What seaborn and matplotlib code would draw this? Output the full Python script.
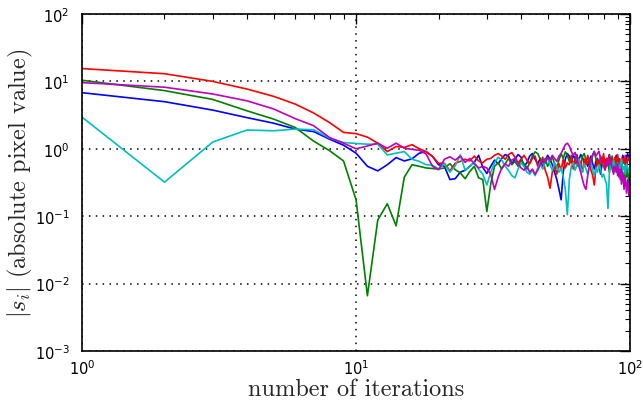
import numpy as np
import pandas as pd
import matplotlib
matplotlib.use("Agg")
import matplotlib.pyplot as plt
import seaborn as sns
from matplotlib.ticker import LogLocator

iterations = list(range(1, 101))

blue = [6.8, 5.0, 3.75, 2.9, 2.4, 1.96, 1.8, 1.39, 1.13, 0.86,
        0.55, 0.47, 0.58, 0.74, 0.66, 0.71, 0.86, 0.91, 0.77, 0.58,
        0.55, 0.35, 0.36, 0.45, 0.48, 0.55, 0.63, 0.80, 0.53, 0.43,
        0.55, 0.68, 0.60, 0.72, 0.82, 0.78, 0.60, 0.70, 0.82, 0.75,
        0.55, 0.62, 0.78, 0.85, 0.70, 0.60, 0.72, 0.52, 0.65, 0.80,
        0.70, 0.58, 0.45, 0.35, 0.25, 0.175, 0.45, 0.70, 0.85, 0.78,
        0.62, 0.80, 0.72, 0.58, 0.68, 0.82, 0.75, 0.62, 0.70, 0.55,
        0.68, 0.78, 0.60, 0.50, 0.65, 0.72, 0.58, 0.42, 0.60, 0.75,
        0.68, 0.55, 0.70, 0.82, 0.62, 0.75, 0.58, 0.68, 0.80, 0.62,
        0.72, 0.55, 0.65, 0.80, 0.70, 0.58, 0.75, 0.85, 0.68, 0.80]

green = [10.4, 7.3, 5.4, 3.66, 2.76, 2.07, 1.3, 0.94, 0.66, 0.175,
         0.0066, 0.088, 0.153, 0.072, 0.38, 0.58, 0.55, 0.52, 0.51, 0.50,
         0.52, 0.60, 0.49, 0.44, 0.36, 0.46, 0.55, 0.37, 0.35, 0.117,
         0.30, 0.55, 0.62, 0.50, 0.60, 0.72, 0.58, 0.65, 0.55, 0.68,
         0.60, 0.50, 0.62, 0.78, 0.90, 0.85, 0.70, 0.62, 0.72, 0.55,
         0.65, 0.75, 0.60, 0.52, 0.68, 0.85, 0.72, 0.90, 0.80, 0.65,
         0.75, 0.58, 0.70, 0.82, 0.62, 0.55, 0.78, 0.85, 0.68, 0.60,
         0.72, 0.55, 0.82, 0.92, 0.70, 0.62, 0.50, 0.58, 0.75, 0.65,
         0.55, 0.70, 0.60, 0.45, 0.62, 0.78, 0.55, 0.48, 0.65, 0.40,
         0.58, 0.35, 0.50, 0.42, 0.30, 0.55, 0.38, 0.48, 0.30, 0.45]

red = [15.5, 13.0, 10.0, 7.7, 6.0, 4.6, 3.4, 2.45, 1.75, 1.68,
       1.49, 1.21, 0.91, 1.08, 1.05, 1.15, 1.0, 0.91, 0.77, 0.61,
       0.61, 0.47, 0.61, 0.65, 0.70, 0.66, 0.78, 0.66, 0.62, 0.70,
       0.72, 0.80, 0.85, 0.78, 0.70, 0.82, 0.88, 0.75, 0.62, 0.70,
       0.80, 0.68, 0.60, 0.72, 0.78, 0.55, 0.62, 0.75, 0.48, 0.38,
       0.26, 0.45, 0.55, 0.42, 0.60, 0.48, 0.70, 0.52, 0.62, 0.58,
       0.80, 0.50, 0.68, 0.55, 0.72, 0.60, 0.45, 0.70, 0.58, 0.80,
       0.62, 0.48, 0.40, 0.29, 0.52, 0.70, 0.55, 0.78, 0.62, 0.85,
       0.50, 0.72, 0.60, 0.80, 0.55, 0.68, 0.45, 0.75, 0.62, 0.82,
       0.55, 0.70, 0.48, 0.72, 0.60, 0.80, 0.52, 0.68, 0.75, 0.62]

cyan = [2.95, 0.32, 1.26, 1.9, 1.85, 1.96, 1.92, 1.44, 1.24, 1.2,
        1.17, 1.17, 0.81, 0.86, 0.91, 0.70, 0.65, 0.58, 0.57, 0.50,
        0.60, 0.45, 0.56, 0.81, 0.48, 0.55, 0.63, 0.50, 0.42, 0.29,
        0.45, 0.62, 0.75, 0.68, 0.55, 0.48, 0.40, 0.37, 0.50, 0.62,
        0.55, 0.45, 0.42, 0.48, 0.40, 0.52, 0.60, 0.50, 0.65, 0.72,
        0.58, 0.48, 0.62, 0.55, 0.45, 0.52, 0.38, 0.25, 0.105, 0.35,
        0.55, 0.62, 0.48, 0.58, 0.70, 0.52, 0.45, 0.60, 0.50, 0.42,
        0.55, 0.62, 0.48, 0.40, 0.52, 0.45, 0.58, 0.50, 0.38, 0.42,
        0.35, 0.30, 0.13, 0.45, 0.60, 0.52, 0.68, 0.55, 0.45, 0.62,
        0.50, 0.58, 0.70, 0.48, 0.55, 0.42, 0.60, 0.52, 0.45, 0.58]

magenta = [9.6, 8.2, 6.5, 5.15, 3.9, 2.8, 2.2, 1.47, 1.21, 1.0,
           1.1, 1.21, 1.02, 1.21, 1.02, 0.98, 0.95, 0.84, 0.55, 0.49,
           0.70, 0.76, 0.68, 0.78, 0.63, 0.72, 0.60, 0.52, 0.55, 0.52,
           0.42, 0.25, 0.38, 0.52, 0.60, 0.55, 0.68, 0.72, 0.60, 0.52,
           0.48, 0.55, 0.45, 0.50, 0.42, 0.48, 0.58, 0.70, 0.62, 0.75,
           0.68, 0.80, 0.72, 0.65, 0.78, 0.85, 1.0, 1.15, 1.21, 1.10,
           0.92, 0.80, 0.88, 0.70, 0.55, 0.45, 0.35, 0.28, 0.25, 0.40,
           0.55, 0.68, 0.80, 0.90, 0.78, 0.85, 0.92, 0.70, 0.62, 0.55,
           0.48, 0.60, 0.72, 0.58, 0.65, 0.50, 0.42, 0.55, 0.45, 0.60,
           0.38, 0.50, 0.30, 0.45, 0.25, 0.40, 0.22, 0.35, 0.20, 0.30]

series_names = ["blue", "green", "red", "cyan", "magenta"]
series_values = [blue, green, red, cyan, magenta]
series_colors = ["#0000ff", "#008000", "#ff0000", "#00bfbf", "#bf00bf"]

df = pd.DataFrame({
    "iteration": np.tile(iterations, len(series_names)),
    "value": np.concatenate(series_values),
    "series": np.repeat(series_names, len(iterations)),
})

sns.set_style("white")
plt.rcParams["mathtext.fontset"] = "cm"
plt.rcParams["font.family"] = ["DejaVu Sans"]

fig = plt.figure(figsize=(6.43, 4.02), dpi=100)
ax = fig.add_axes([0.1275, 0.1244, 0.8525, 0.8383])

sns.lineplot(data=df, x="iteration", y="value", hue="series",
             hue_order=series_names, palette=series_colors,
             linewidth=1.2, legend=False, ax=ax, estimator=None)

ax.set_xscale("log")
ax.set_yscale("log")
ax.set_xlim(1, 100)
ax.set_ylim(1e-3, 1e2)

ax.xaxis.set_major_locator(LogLocator(base=10, numticks=10))
ax.yaxis.set_major_locator(LogLocator(base=10, numticks=10))
ax.xaxis.set_minor_locator(LogLocator(base=10, subs=np.arange(2, 10), numticks=20))
ax.yaxis.set_minor_locator(LogLocator(base=10, subs=np.arange(2, 10), numticks=20))

ax.grid(True, which="major", linestyle=(0, (1, 3.5)), color="black", linewidth=1.1)
ax.tick_params(which="both", direction="in", top=True, right=True, colors="black",
               labelsize=10.5)
ax.tick_params(which="major", length=7, width=1)
ax.tick_params(which="minor", length=3.5, width=0.8)
for s in ax.spines.values():
    s.set_color("black")
    s.set_linewidth(1.2)
ax.tick_params(axis="x", pad=5)
ax.tick_params(axis="y", pad=9)

ax.set_xlabel("number of iterations", fontfamily="cmr10", fontsize=17.5, labelpad=1)
ax.set_ylabel(r"$|s_i|$ (absolute pixel value)", fontfamily="cmr10", fontsize=17.5,
              labelpad=0)

fig.savefig("out.png", dpi=100)
